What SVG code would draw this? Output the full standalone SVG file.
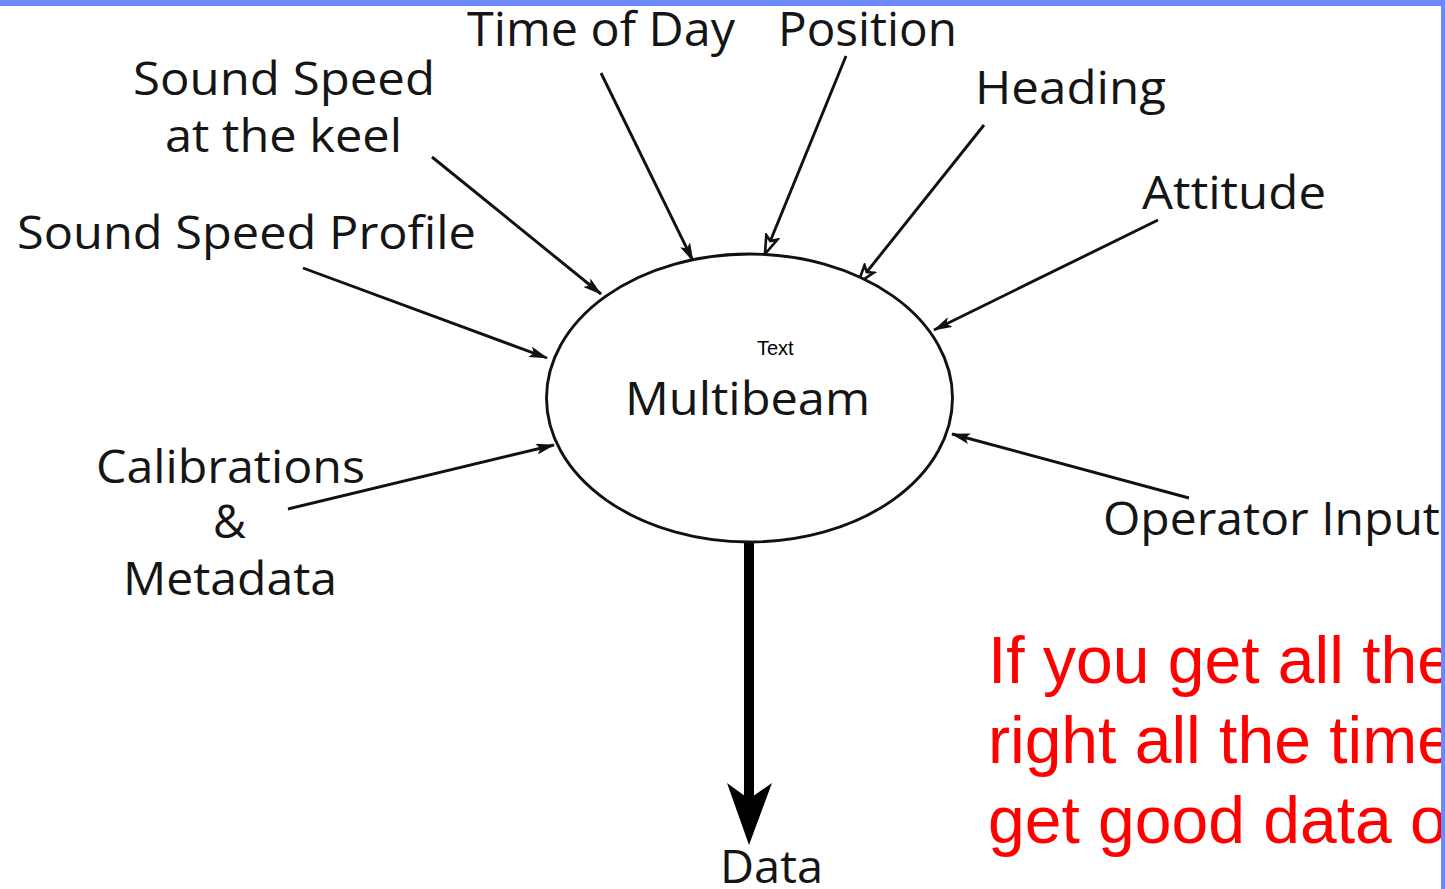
<svg xmlns="http://www.w3.org/2000/svg" width="1445" height="889" viewBox="0 0 1445 889">
  <style>
    .lbl { font-family: "Open Sans", "Noto Sans", "DejaVu Sans", sans-serif; font-size: 46px; fill: #151515; }
    .cond { font-family: "Open Sans", "Noto Sans", sans-serif; font-size: 47px; fill: #151515; }
    .wire { stroke: #111111; stroke-width: 2.9; fill: none; }
    .note { font-family: "Liberation Sans", Arial, sans-serif; font-size: 66px; fill: #ff0000; }
  </style>
  <defs>
    <marker id="solid" markerUnits="userSpaceOnUse" viewBox="0 0 19 11" refX="18" refY="5.5" markerWidth="19" markerHeight="11" orient="auto">
      <path d="M0,0 L19,5.5 L0,11 L4,5.5 z" fill="#111111"/>
    </marker>
    <marker id="hollow" markerUnits="userSpaceOnUse" viewBox="0 0 22 16" refX="20" refY="8" markerWidth="22" markerHeight="16" orient="auto">
      <path d="M2,2 L20,8 L2,14 L6,8 z" fill="#ffffff" stroke="#111111" stroke-width="2.6" stroke-linejoin="miter"/>
    </marker>
  </defs>

  <rect x="0" y="0" width="1445" height="889" fill="#ffffff"/>

  <!-- inputs feeding the sonar -->
  <g id="connectors">
    <line class="wire" x1="601" y1="73" x2="693" y2="261" marker-end="url(#solid)"/>
    <line class="wire" x1="846" y1="56" x2="765" y2="254" marker-end="url(#hollow)"/>
    <line class="wire" x1="984" y1="125" x2="858" y2="283" marker-end="url(#hollow)"/>
    <line class="wire" x1="1158" y1="220" x2="934" y2="330" marker-end="url(#solid)"/>
    <line class="wire" x1="432" y1="157" x2="601" y2="294" marker-end="url(#solid)"/>
    <line class="wire" x1="303" y1="268" x2="547" y2="358" marker-end="url(#solid)"/>
    <line class="wire" x1="288" y1="509" x2="554" y2="445" marker-end="url(#solid)"/>
    <line class="wire" x1="1189" y1="498" x2="952" y2="434" marker-end="url(#solid)"/>
    <!-- output -->
    <line x1="749" y1="542" x2="749" y2="800" stroke="#000" stroke-width="10"/>
    <path d="M749,845 L727,783 L749,799 L772,783 z" fill="#000"/>
  </g>

  <g id="multibeam">
    <ellipse cx="749.5" cy="398" rx="203" ry="144" fill="#ffffff" stroke="#111111" stroke-width="2.9"/>
    <text x="757" y="355" font-family="Liberation Sans, Arial, sans-serif" font-size="20" fill="#000">Text</text>
    <text class="lbl" x="625" y="415" textLength="245" lengthAdjust="spacingAndGlyphs">Multibeam</text>
  </g>

  <g id="time-of-day">
    <text class="cond" x="467" y="46" textLength="268" lengthAdjust="spacingAndGlyphs">Time of Day</text>
  </g>
  <g id="position">
    <text class="cond" x="778" y="46" textLength="179" lengthAdjust="spacingAndGlyphs">Position</text>
  </g>
  <g id="heading">
    <text class="lbl" x="975" y="104" textLength="191" lengthAdjust="spacingAndGlyphs">Heading</text>
  </g>
  <g id="attitude">
    <text class="lbl" x="1142" y="209" textLength="184" lengthAdjust="spacingAndGlyphs">Attitude</text>
  </g>
  <g id="sound-speed-keel">
    <text class="lbl" x="133" y="95" textLength="302" lengthAdjust="spacingAndGlyphs">Sound Speed</text>
    <text class="lbl" x="165" y="152" textLength="237" lengthAdjust="spacingAndGlyphs">at the keel</text>
  </g>
  <g id="sound-speed-profile">
    <text class="lbl" x="17" y="249" textLength="459" lengthAdjust="spacingAndGlyphs">Sound Speed Profile</text>
  </g>
  <g id="calibrations">
    <text class="lbl" x="96" y="483" textLength="269" lengthAdjust="spacingAndGlyphs">Calibrations</text>
    <text class="lbl" x="213" y="538" textLength="33" lengthAdjust="spacingAndGlyphs">&amp;</text>
    <text class="lbl" x="123" y="595" textLength="214" lengthAdjust="spacingAndGlyphs">Metadata</text>
  </g>
  <g id="operator-input">
    <text class="lbl" x="1103" y="535" textLength="337" lengthAdjust="spacingAndGlyphs">Operator Input</text>
  </g>
  <g id="data">
    <text class="lbl" x="720" y="883" textLength="103" lengthAdjust="spacingAndGlyphs">Data</text>
  </g>

  <g id="note">
    <text class="note" x="988" y="683">If you get all the</text>
    <text class="note" x="988" y="763">right all the time</text>
    <text class="note" x="988" y="843">get good data o</text>
  </g>

  <!-- slide frame -->
  <rect x="0" y="0" width="1445" height="6" fill="#6b88ff"/>
  <rect x="1441" y="0" width="4" height="889" fill="#6b88ff"/>
</svg>
